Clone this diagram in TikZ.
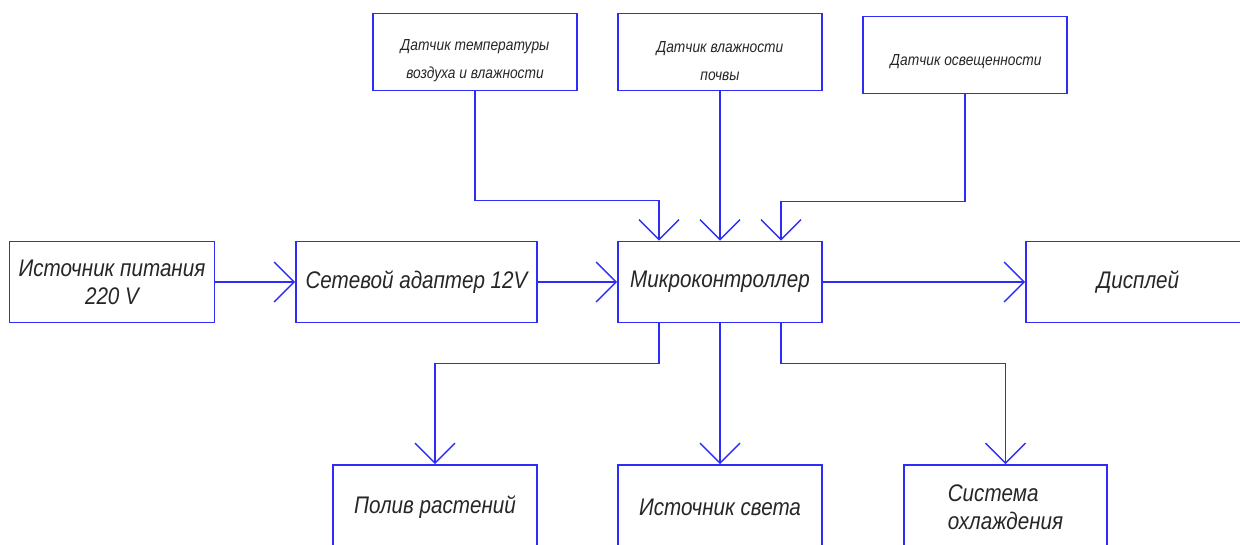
\documentclass[tikz,border=0pt]{standalone}
\usepackage{fontspec}
\setmainfont{Liberation Sans}[FakeStretch=0.86]
\usetikzlibrary{arrows.meta}

\definecolor{cadblue}{RGB}{45,45,245}
\tikzset{
	blk/.style={draw=cadblue, line width=1.6pt, inner sep=0pt, minimum width=204pt, minimum height=81pt,
		align=center, text=black!85, font=\fontsize{24}{28}\selectfont\itshape},
	sens/.style={draw=cadblue, line width=1.6pt, inner sep=0pt, minimum width=204pt, minimum height=77pt},
	stxt/.style={align=center, inner sep=0pt, text=black!85, font=\fontsize{16}{28}\selectfont\itshape},
	wire/.style={draw=cadblue, line width=1.4pt},
	feed/.style={wire, -{Straight Barb[length=20pt, width=40pt, line width=1.4pt]}}
}

\begin{document}
\begin{tikzpicture}[x=1pt, y=-1pt]
	\useasboundingbox (0,0) rectangle (1240,545);

	% main row
	\node[blk, minimum width=205pt] (src) at (112,282) {Источник питания\\220 V};
	\node[blk, minimum width=241pt] (adp) at (416.5,282) {Сетевой адаптер 12V};
	\node[blk] (mcu) at (720,282) {Микроконтроллер};
	\node[blk, minimum width=224pt] (disp) at (1138,282) {Дисплей};

	% sensors
	\node[sens] (tsens) at (475,52) {};
	\node[sens] (hsens) at (720,52) {};
	\node[sens] (lsens) at (965,55) {};
	\node[stxt] (tsenstxt) at (475,61) {Датчик температуры\\воздуха и влажности};
	\node[stxt] (hsenstxt) at (720,61) {Датчик влажности\\почвы};
	\node[stxt] (lsenstxt) at (966,62) {Датчик освещенности};

	% outputs
	\node[blk, minimum height=84pt] (pump) at (435,507) {Полив растений};
	\node[blk, minimum height=84pt] (lamp) at (720,507) {Источник света};
	\node[blk, minimum height=84pt, minimum width=203pt, align=left] (fan) at (1005.5,507) {Система\\охлаждения};

	\draw[feed] (src) -- (adp);
	\draw[feed] (adp) -- (mcu);
	\draw[feed] (mcu) -- (disp);

	\draw[feed] (tsens.south) -- ++(0,109) -| ([xshift=-61pt]mcu.north);
	\draw[feed] (hsens.south) -- (mcu.north);
	\draw[feed] (lsens.south) -- ++(0,107) -| ([xshift=61pt]mcu.north);

	\draw[feed] ([xshift=-61pt]mcu.south) -- ++(0,40) -| (pump.north);
	\draw[feed] (mcu.south) -- (lamp.north);
	\draw[feed] ([xshift=61pt]mcu.south) -- ++(0,40) -| (fan.north);

\end{tikzpicture}
\end{document}
